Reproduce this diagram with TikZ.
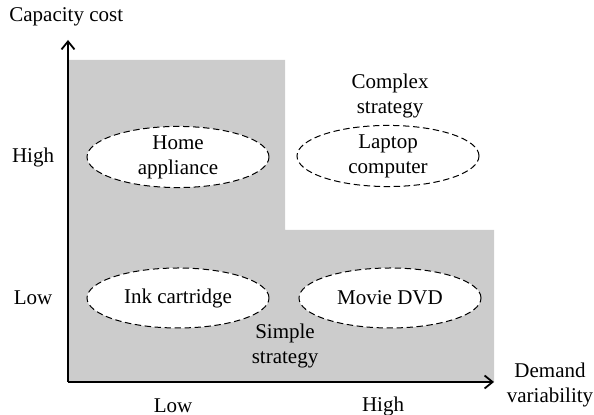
\documentclass[tikz,border=0pt]{standalone}
\usepackage{fontspec}
\setmainfont{Liberation Serif}
\usetikzlibrary{arrows.meta,shapes.geometric,positioning}
\tikzset{
  txt/.style={align=center, inner sep=0pt, font=\fontsize{10.5}{12.5}\selectfont},
  product/.style={txt, ellipse, draw, dash pattern=on 3.2pt off 1.8pt,
    line width=0.5pt, fill=white, minimum width=91pt, minimum height=30pt},
  axis/.style={line width=0.9pt, -{Straight Barb[length=4pt,width=6.5pt]}}
}

\begin{document}
\begin{tikzpicture}[x=0.5pt, y=-0.5pt]
\useasboundingbox (0,0) rectangle (594,415);
% shaded region
\fill[black!20] (68,60) -- (285,60) -- (285,230) -- (494,230)
  -- (494,382) -- (68,382) -- cycle;
% axes
\coordinate (o) at (68,382);
\coordinate (ytip) at (68,40);
\coordinate (xtip) at (494,382);
\draw[axis] (o) -- (ytip);
\draw[axis] (o) -- (xtip);
\node[txt, anchor=west] (ylab) at (9,17) {Capacity cost};
\node[txt] (xlab) at (550,385) {Demand\\variability};
% tick labels
\node[txt] (yhigh) at (33,157) {High};
\node[txt] (ylow) at (33,298) {Low};
\node[txt] (xlow) at (173,406) {Low};
\node[txt] (xhigh) at (383,406) {High};
% products
\node[product] (home) at (178,157) {Home\\appliance};
\node[product] (laptop) at (388,156) {Laptop\\computer};
\node[product] (ink) at (178,298) {Ink cartridge};
\node[product] (dvd) at (390,298) {Movie DVD};
% strategies
\node[txt] (complex) at (390,96) {Complex\\strategy};
\node[txt] (simple) at (285,346) {Simple\\strategy};
\end{tikzpicture}
\end{document}
